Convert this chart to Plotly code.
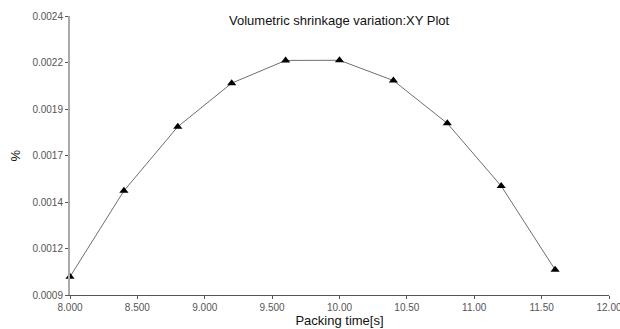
import plotly.graph_objects as go

packing_time = [8.0, 8.4, 8.8, 9.2, 9.6, 10.0, 10.4, 10.8, 11.2, 11.6]
shrinkage = [0.000998, 0.00146, 0.001805, 0.002039, 0.002161, 0.002162, 0.002053, 0.001823, 0.001486, 0.001036]

x_ticks = [8.0, 8.5, 9.0, 9.5, 10.0, 10.5, 11.0, 11.5, 12.0]
x_tick_labels = ["8.000", "8.500", "9.000", "9.500", "10.00", "10.50", "11.00", "11.50", "12.00"]
y_ticks = [0.0009, 0.00115, 0.0014, 0.00165, 0.0019, 0.00215, 0.0024]
y_tick_labels = ["0.0009", "0.0012", "0.0014", "0.0017", "0.0019", "0.0022", "0.0024"]

font = "Liberation Sans, Arial, sans-serif"

fig = go.Figure()
fig.add_trace(go.Scatter(
    x=packing_time, y=shrinkage, mode="lines+markers",
    line=dict(color="#6e6e6e", width=1),
    marker=dict(symbol="triangle-up", size=8, color="black"),
    showlegend=False, cliponaxis=False,
))

fig.update_layout(
    width=620, height=329,
    margin=dict(l=70, r=11, t=16, b=34),
    paper_bgcolor="white", plot_bgcolor="white",
    font=dict(family=font, size=10, color="#444"),
    xaxis=dict(
        range=[8.0, 12.0], tickvals=x_ticks, ticktext=x_tick_labels, automargin=False,
        ticklabeloverflow="allow",
        showgrid=False, zeroline=False, showline=True, linecolor="#555", linewidth=1,
        ticks="outside", ticklen=3, tickcolor="#555",
        title=dict(text="Packing time[s]", font=dict(size=13, color="#111"), standoff=2),
        tickfont=dict(size=10, color="#555"),
    ),
    yaxis=dict(
        range=[0.0009, 0.0024], tickvals=y_ticks, ticktext=y_tick_labels, automargin=False,
        showgrid=False, zeroline=False, showline=True, linecolor="#aaa", linewidth=2,
        ticks="outside", ticklen=3, tickcolor="#555",
        tickfont=dict(size=10, color="#555"),
    ),
    annotations=[
        dict(text="Volumetric shrinkage variation:XY Plot", x=0.5, y=1.0, xref="paper", yref="paper",
             yanchor="middle", yshift=-4, showarrow=False, font=dict(size=13, color="#111")),
        dict(text="%", x=0, y=0.5, xref="paper", yref="paper", xanchor="center", yanchor="middle",
             xshift=-55, textangle=-90, showarrow=False, font=dict(size=13, color="#111")),
    ],
)
fig.write_html("out.html", config={"displayModeBar": False},
               post_script="document.body.style.margin='0';document.body.style.overflow='hidden';")
